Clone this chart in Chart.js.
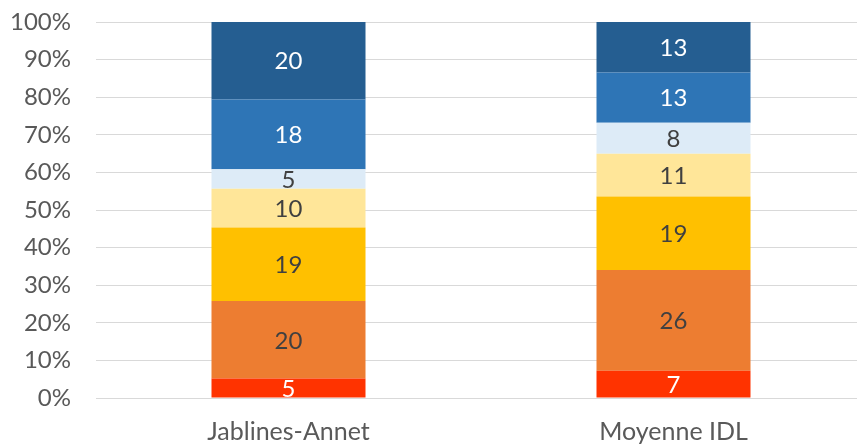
<!DOCTYPE html>
<html>
<head>
<meta charset="utf-8">
<script src="https://cdn.jsdelivr.net/npm/chart.js@4"></script>
<style>
  html, body { margin: 0; padding: 0; background: #fff; overflow: hidden; }
  #wrap { width: 866px; height: 447px; }
</style>
</head>
<body>
<div id="wrap"><canvas id="graph" width="866" height="447"></canvas></div>
<script>
// categories and raw values (bottom to top)
var categories = ["Jablines-Annet", "Moyenne IDL"];
var s1 = [5, 7];
var s2 = [20, 26];
var s3 = [19, 19];
var s4 = [10, 11];
var s5 = [5, 8];
var s6 = [18, 13];
var s7 = [20, 13];
var yTicks = [0, 10, 20, 30, 40, 50, 60, 70, 80, 90, 100];

var series = [s1, s2, s3, s4, s5, s6, s7];
var colors = ["#FF3300", "#ED7D31", "#FFC000", "#FFE699", "#DDEBF7", "#2E75B6", "#255E91"];
var labelColors = ["#ffffff", "#404040", "#404040", "#404040", "#404040", "#ffffff", "#ffffff"];

// totals per category, so each bar fills 100%
var totals = categories.map(function (c, i) {
  var t = 0;
  for (let j = 0; j < series.length; j++) t += series[j][i];
  return t;
});

var datasets = series.map(function (s, j) {
  return {
    data: s.map(function (v, i) { return v / totals[i] * 100; }),
    raw: s,
    backgroundColor: colors[j],
    borderWidth: 0,
    barPercentage: 0.4,
    categoryPercentage: 1.0
  };
});

// draw the count in the middle of each segment
var valueLabels = {
  id: "valueLabels",
  afterDatasetsDraw: function (chart) {
    var ctx = chart.ctx;
    ctx.save();
    ctx.font = "24px Lato";
    ctx.textAlign = "center";
    ctx.textBaseline = "middle";
    chart.data.datasets.forEach(function (ds, j) {
      chart.getDatasetMeta(j).data.forEach(function (bar, i) {
        var mid = (bar.y + bar.base) / 2;
        ctx.fillStyle = labelColors[j];
        ctx.fillText(ds.raw[i], bar.x, mid + 1);
      });
    });
    ctx.restore();
  }
};

const graph = new Chart("graph", {
  type: "bar",
  data: { labels: categories, datasets: datasets },
  plugins: [valueLabels],
  options: {
    responsive: false,
    animation: false,
    layout: { padding: { top: 22, left: 0, right: 0, bottom: 0 } },
    plugins: { legend: { display: false }, tooltip: { enabled: false } },
    scales: {
      x: {
        stacked: true,
        grid: { display: false, drawTicks: false },
        border: { display: false },
        ticks: { color: "#595959", font: { family: "Lato", size: 25 }, padding: 19 },
        afterFit: function (scale) {
          scale.height = 49;
          scale.paddingLeft = 0; scale.paddingRight = 0;
        }
      },
      y: {
        stacked: true,
        min: 0,
        max: 100,
        afterBuildTicks: function (scale) {
          scale.ticks = yTicks.map(function (v) { return { value: v }; });
        },
        grid: { color: "#d9d9d9", lineWidth: 1, drawTicks: false },
        border: { display: false },
        ticks: {
          color: "#595959",
          font: { family: "Lato", size: 24 },
          padding: 25,
          callback: function (v) { return v + "%"; }
        },
        afterFit: function (scale) {
          scale.width = 96;
          scale.paddingTop = 0; scale.paddingBottom = 0;
        }
      }
    }
  }
});
</script>
</body>
</html>
